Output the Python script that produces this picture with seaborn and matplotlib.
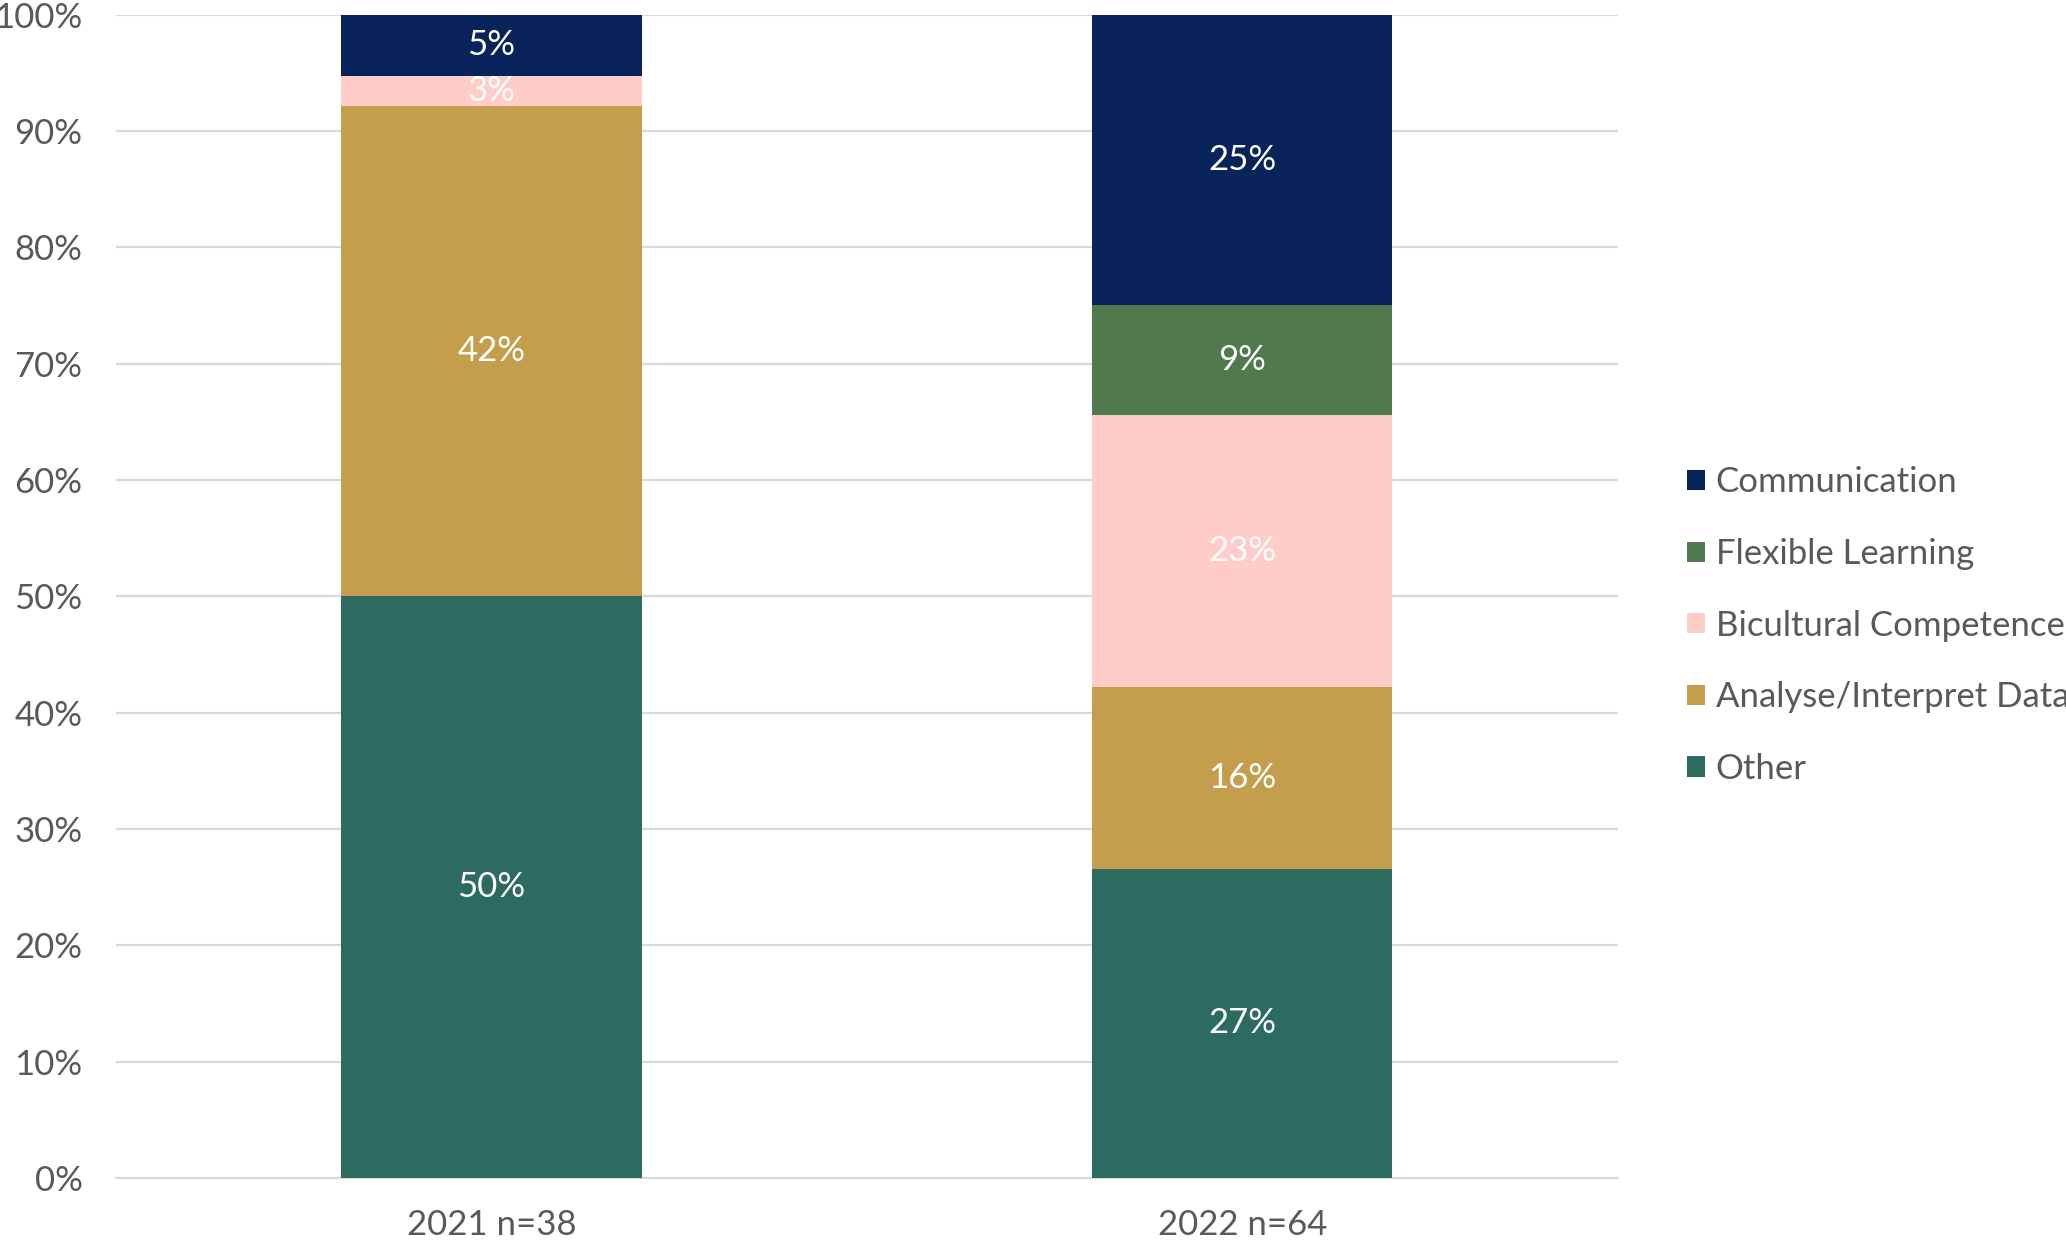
# plot.py
# stacked 100% bars: skill categories by survey year

import seaborn as sns
import matplotlib.pyplot as plt
from matplotlib.patches import Patch
import numpy as np

# -----------------------------------------------------------
# Data (shares in %)
# -----------------------------------------------------------

years = ["2021 n=38", "2022 n=64"]

# stacking order, bottom to top
categories = ["Other", "Analyse/Interpret Data", "Bicultural Competence",
              "Flexible Learning", "Communication"]

other = [50.0, 26.6]
analyse = [42.1, 15.6]
bicultural = [2.6, 23.4]
flexible = [0.0, 9.4]
communication = [5.3, 25.0]

series = [other, analyse, bicultural, flexible, communication]

colors = ["#2D6A5F", "#C49D4D", "#FFCCC9", "#507A4D", "#08245A"]

# -----------------------------------------------------------
# Style
# -----------------------------------------------------------

sns.set_style("white")
plt.rcParams["font.family"] = ["Lato", "DejaVu Sans"]
text_grey = "#595959"
grid_grey = "#D9D9D9"
fs = 25

fig = plt.figure(figsize=(20.66, 12.40), dpi=100)
ax = fig.add_axes([0.0561, 0.05, 0.7269, 0.9383])

# -----------------------------------------------------------
# Stacked bars
# -----------------------------------------------------------

bottom = np.zeros(len(years))
for name, vals, col in zip(categories, series, colors):
    vals = np.array(vals)
    sns.barplot(x=years, y=vals, bottom=bottom, color=col, width=0.4,
                saturation=1, linewidth=0, ax=ax, zorder=3)
    cont = ax.containers[-1]
    labels = [f"{v:.0f}%" if v > 0 else "" for v in vals]
    ax.bar_label(cont, labels=labels, label_type="center",
                 color="white", fontsize=fs)
    bottom = bottom + vals

# -----------------------------------------------------------
# Axes
# -----------------------------------------------------------

ax.set_xlim(-0.5, 1.5)
ax.set_ylim(0, 100)
ax.set_yticks(np.arange(0, 101, 10))
ax.set_yticklabels([f"{t}%" for t in range(0, 101, 10)])
ax.yaxis.grid(True, color=grid_grey, linewidth=1.6, zorder=0)
ax.set_axisbelow(True)
for s in ["top", "right", "left"]:
    ax.spines[s].set_visible(False)
ax.spines["bottom"].set_color(grid_grey)
ax.spines["bottom"].set_linewidth(1.6)
ax.tick_params(axis="y", length=0, pad=24, labelsize=fs, labelcolor=text_grey)
ax.tick_params(axis="x", length=0, pad=22, labelsize=fs, labelcolor=text_grey)
ax.set_xlabel("")
ax.set_ylabel("")

# -----------------------------------------------------------
# Legend (top-down order, clipped at the right edge like the original)
# -----------------------------------------------------------

handles = [Patch(facecolor=c, edgecolor="none") for c in colors[::-1]]
fig.legend(handles, categories[::-1], loc="center left",
           bbox_to_anchor=(0.8166, 0.4955), frameon=False, fontsize=fs,
           labelcolor=text_grey, handlelength=0.52, handleheight=0.52,
           handletextpad=0.3, labelspacing=1.14, borderpad=0,
           borderaxespad=0)

plt.savefig("out.png", dpi=100)
plt.close()
